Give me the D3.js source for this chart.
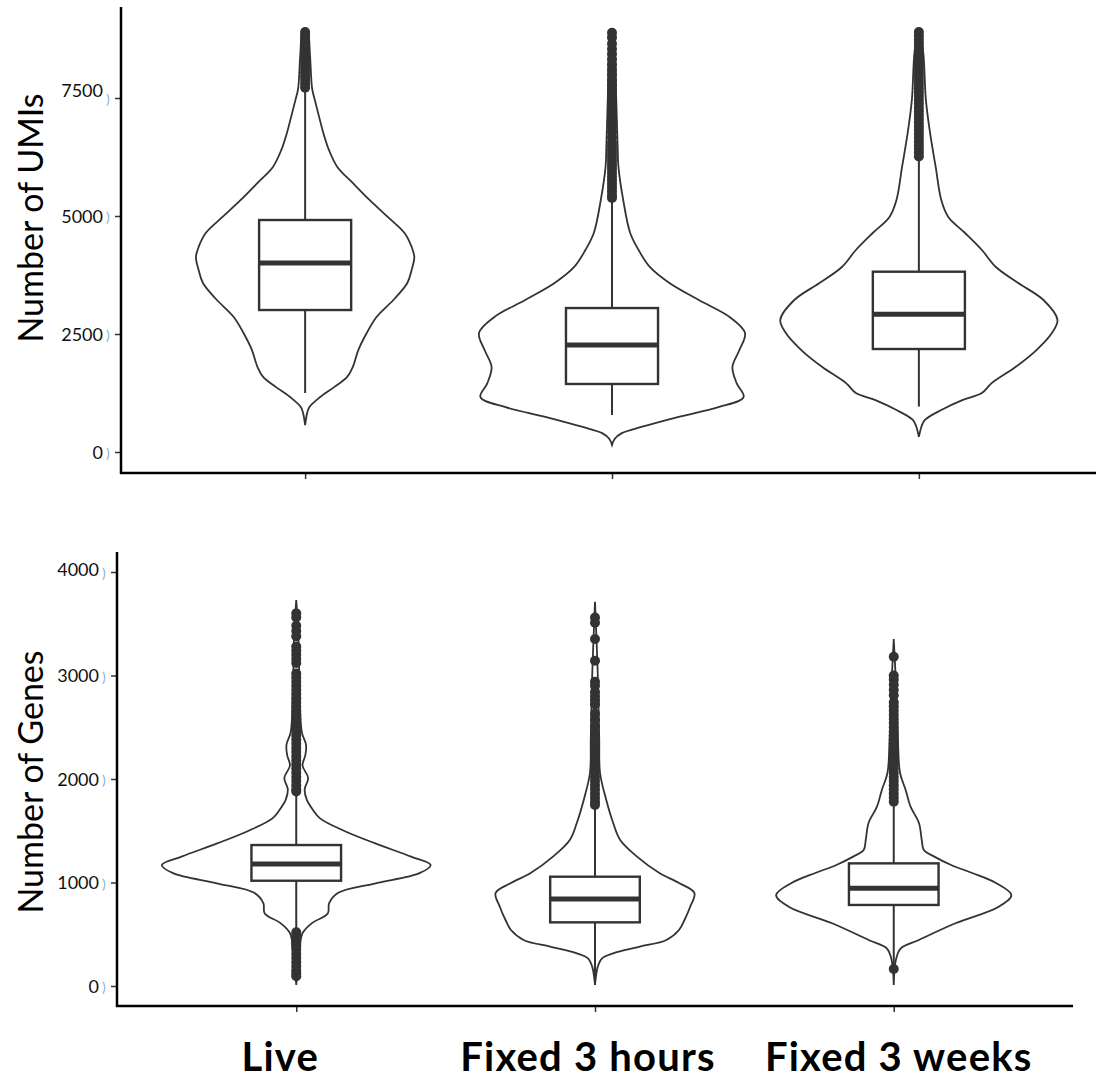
<!DOCTYPE html>
<html>
<head>
<meta charset="utf-8">
<script src="https://cdn.jsdelivr.net/npm/d3@7"></script>
<style>
  html, body { margin: 0; padding: 0; background: #fff; }
  svg { display: block; }
  text { font-family: Lato, "Open Sans", sans-serif; }
</style>
</head>
<body>
<svg id="chart" width="1096" height="1082"></svg>
<script>
// ---------------- DATA ----------------
const categories = ["Live", "Fixed 3 hours", "Fixed 3 weeks"];
const umiTicks = [0, 2500, 5000, 7500];
const geneTicks = [0, 1000, 2000, 3000, 4000];

// box-plot statistics (per category, same order as categories)
const umiQ1     = [3008, 1441, 2182];
const umiMedian = [4004, 2267, 2919];
const umiQ3     = [4915, 3050, 3820];
const umiLow    = [1250, 784, 962];
const umiHigh   = [7700, 5340, 6200];

const geneQ1     = [1017, 615, 783];
const geneMedian = [1179, 840, 944];
const geneQ3     = [1362, 1056, 1185];
const geneLow    = [525, 10, 200];
const geneHigh   = [1865, 1733, 1765];

// violin density profiles: [value, relative density]
const umiViolinLive = [[8980,0],[8900,0.02],[8400,0.035],[7700,0.05],[7450,0.07],[7100,0.1],[6760,0.13],[6400,0.17],[6040,0.23],[5700,0.34],[5340,0.46],[4980,0.59],[4640,0.71],[4350,0.76],[4130,0.78],[3850,0.76],[3580,0.73],[3220,0.63],[2860,0.51],[2520,0.44],[2160,0.38],[1800,0.34],[1590,0.3],[1380,0.21],[1170,0.11],[950,0.03],[830,0.015],[570,0]];
const umiViolin3h = [[8900,0],[8500,0.02],[7500,0.03],[6500,0.04],[6040,0.046],[5340,0.08],[4640,0.13],[4280,0.19],[3920,0.27],[3580,0.41],[3220,0.62],[2860,0.84],[2520,0.95],[2160,0.91],[1800,0.86],[1460,0.89],[1165,0.94],[950,0.76],[740,0.47],[530,0.21],[400,0.07],[280,0.02],[150,0]];
const umiViolin3w = [[8940,0],[8500,0.03],[7460,0.05],[6760,0.08],[6040,0.12],[5340,0.16],[4980,0.21],[4640,0.33],[4280,0.45],[3920,0.55],[3580,0.71],[3220,0.89],[2800,0.99],[2520,0.95],[2160,0.84],[1800,0.69],[1460,0.52],[1250,0.45],[1100,0.31],[890,0.16],[680,0.043],[550,0.02],[320,0]];

const geneViolinLive = [[3730,0],[3400,0.015],[2800,0.025],[2450,0.04],[2330,0.07],[2230,0.065],[2130,0.045],[2010,0.085],[1900,0.06],[1800,0.075],[1700,0.12],[1620,0.17],[1500,0.34],[1380,0.56],[1250,0.82],[1170,0.96],[1090,0.88],[990,0.56],[900,0.3],[800,0.235],[700,0.225],[610,0.115],[510,0.045],[300,0.02],[10,0]];
const geneViolin3h = [[3713,0],[3000,0.02],[2400,0.03],[2058,0.036],[1800,0.08],[1575,0.13],[1411,0.18],[1250,0.3],[1092,0.46],[995,0.6],[898,0.71],[766,0.68],[640,0.64],[541,0.6],[445,0.51],[380,0.32],[316,0.13],[267,0.05],[187,0.02],[10,0]];
const geneViolin3w = [[3353,0],[2800,0.02],[2377,0.03],[2058,0.045],[1894,0.085],[1733,0.12],[1575,0.18],[1411,0.2],[1314,0.215],[1250,0.29],[1169,0.41],[1092,0.56],[995,0.73],[879,0.84],[766,0.75],[606,0.44],[445,0.18],[364,0.05],[250,0.015],[10,0]];

// outliers
const umiOutLive = [7720,7800,7880,7960,8040,8120,8200,8280,8360,8440,8520,8600,8680,8760,8840,8900];
const umiOut3h = [8880,8780,8650,8540,8430,8320,8210,8100,7990,7880,7770,7660,7550,7440,7330,7220,7110,7000,6890,6780,6670,6560,6480,6400,6320,6240,6160,6080,6000,5920,5840,5760,5680,5600,5520,5440,5380];
const umiOut3w = [8900,8820,8740,8660,8580,8500,8420,8340,8260,8180,8100,8020,7940,7860,7780,7700,7620,7540,7460,7380,7300,7220,7140,7060,6980,6900,6820,6740,6660,6580,6500,6420,6340,6260];

const geneOutLive = [3600,3560,3480,3430,3380,3280,3240,3200,3160,3120,3020,2980,2940,2900,2860,2820,2780,2740,2700,2660,2620,2580,2540,2500,2460,2420,2380,2340,2300,2260,2220,2180,2140,2100,2060,2020,1980,1940,1900,1880,520,490,460,430,400,380,350,310,270,230,190,150,120,95];
const geneOut3h = [3560,3510,3352,3143,2940,2900,2840,2800,2760,2720,2630,2570,2510,2450,2390,2330,2270,2220,2180,2140,2100,2060,2020,1980,1940,1900,1860,1820,1780,1750];
const geneOut3w = [3182,3000,2960,2910,2860,2810,2740,2700,2660,2620,2580,2540,2500,2460,2420,2380,2340,2300,2260,2220,2180,2140,2100,2060,2020,1980,1940,1900,1860,1820,1780,164];

const yLabels = ["Number of UMIs", "Number of Genes"];

// ---------------- LAYOUT ----------------
const svg = d3.select("#chart");
const INK = "#333333";

const panels = [
  {
    title: yLabels[0], ticks: umiTicks,
    q1: umiQ1, med: umiMedian, q3: umiQ3, lo: umiLow, hi: umiHigh,
    violins: [umiViolinLive, umiViolin3h, umiViolin3w],
    outliers: [umiOutLive, umiOut3h, umiOut3w],
    axisX: 121, xRight: 1103, axisTop: 7, axisBottom: 473,
    yRange: [452, 98], labelX: 43, labelY: 218, firstLabelShift: -8
  },
  {
    title: yLabels[1], ticks: geneTicks,
    q1: geneQ1, med: geneMedian, q3: geneQ3, lo: geneLow, hi: geneHigh,
    violins: [geneViolinLive, geneViolin3h, geneViolin3w],
    outliers: [geneOutLive, geneOut3h, geneOut3w],
    axisX: 117, xRight: 1073, axisTop: 552, axisBottom: 1006,
    yRange: [986, 572], labelX: 43, labelY: 782, firstLabelShift: -3
  }
];

const widthScale = d3.scaleLinear().domain([0, 1]).range([0, 140]);

let lastX = null;

panels.forEach(p => {
  const g = svg.append("g");
  const x = d3.scalePoint().domain(categories).range([p.axisX, p.xRight]).padding(0.6);
  const y = d3.scaleLinear().domain([0, d3.max(p.ticks)]).range(p.yRange);
  const boxHalf = x.step() * 0.15;
  lastX = x;

  categories.forEach((c, i) => {
    const cx = x(c);
    const area = d3.area()
      .y(d => y(d[0]))
      .x0(d => cx - widthScale(d[1]))
      .x1(d => cx + widthScale(d[1]))
      .curve(d3.curveCatmullRom.alpha(0.5));
    g.append("path")
      .attr("d", area(p.violins[i]))
      .attr("fill", "#fff")
      .attr("stroke", INK)
      .attr("stroke-width", 1.8);

    // whiskers
    g.append("line")
      .attr("x1", cx).attr("x2", cx)
      .attr("y1", y(p.q3[i])).attr("y2", y(p.hi[i]))
      .attr("stroke", INK).attr("stroke-width", 2);
    g.append("line")
      .attr("x1", cx).attr("x2", cx)
      .attr("y1", y(p.q1[i])).attr("y2", y(p.lo[i]))
      .attr("stroke", INK).attr("stroke-width", 2);

    // box
    g.append("rect")
      .attr("x", cx - boxHalf)
      .attr("y", y(p.q3[i]))
      .attr("width", boxHalf * 2)
      .attr("height", y(p.q1[i]) - y(p.q3[i]))
      .attr("fill", "#fff")
      .attr("stroke", INK)
      .attr("stroke-width", 2.4);
    // median
    g.append("line")
      .attr("x1", cx - boxHalf).attr("x2", cx + boxHalf)
      .attr("y1", y(p.med[i])).attr("y2", y(p.med[i]))
      .attr("stroke", INK).attr("stroke-width", 5);

    // outliers
    g.selectAll(null).data(p.outliers[i]).enter().append("circle")
      .attr("cx", cx)
      .attr("cy", d => y(d))
      .attr("r", 5)
      .attr("fill", INK);
  });

  // y axis
  const yAxis = d3.axisLeft(y).tickValues(p.ticks).tickSize(6).tickFormat("");
  const ya = g.append("g").attr("transform", `translate(${p.axisX},0)`).call(yAxis);
  ya.select(".domain").remove();
  ya.selectAll(".tick line").attr("stroke", INK).attr("stroke-width", 1.5);
  ya.selectAll(".tick").each(function(d, k) {
    const t = d3.select(this);
    const shift = (k === p.ticks.length - 1) ? p.firstLabelShift : 0;
    t.append("text")
      .attr("x", -18).attr("y", shift)
      .attr("dy", "0.35em")
      .attr("text-anchor", "end")
      .attr("fill", "#111")
      .style("font-size", "18px")
      .text(d3.format("d")(d));
    t.append("text")
      .attr("x", -15).attr("y", 1)
      .attr("dy", "0.35em")
      .attr("text-anchor", "start")
      .attr("fill", "#8fb0cf")
      .style("font-size", "14px")
      .text(")");
  });
  g.append("line")
    .attr("x1", p.axisX).attr("x2", p.axisX)
    .attr("y1", p.axisTop).attr("y2", p.axisBottom + 1)
    .attr("stroke", "#000").attr("stroke-width", 2.5);

  // x axis
  const xAxis = d3.axisBottom(x).tickSize(6).tickFormat("");
  const xa = g.append("g").attr("transform", `translate(0,${p.axisBottom})`).call(xAxis);
  xa.select(".domain").remove();
  xa.selectAll(".tick line").attr("stroke", INK).attr("stroke-width", 1.5);
  g.append("line")
    .attr("x1", p.axisX - 1).attr("x2", p.xRight)
    .attr("y1", p.axisBottom).attr("y2", p.axisBottom)
    .attr("stroke", "#000").attr("stroke-width", 2.5);

  // y label
  g.append("text")
    .attr("transform", `translate(${p.labelX},${p.labelY}) rotate(-90)`)
    .attr("text-anchor", "middle")
    .attr("fill", "#000")
    .style("font-size", "34px")
    .text(p.title);
});

// category labels under the bottom panel
const labelDx = [-16, -7, 5];
svg.append("g").selectAll("text").data(categories).enter().append("text")
  .attr("x", (d, i) => lastX(d) + labelDx[i])
  .attr("y", 1071)
  .attr("text-anchor", "middle")
  .attr("fill", "#000")
  .style("font-size", "40px")
  .style("font-weight", "700")
  .style("letter-spacing", "1.2px")
  .text(d => d);
</script>
</body>
</html>
